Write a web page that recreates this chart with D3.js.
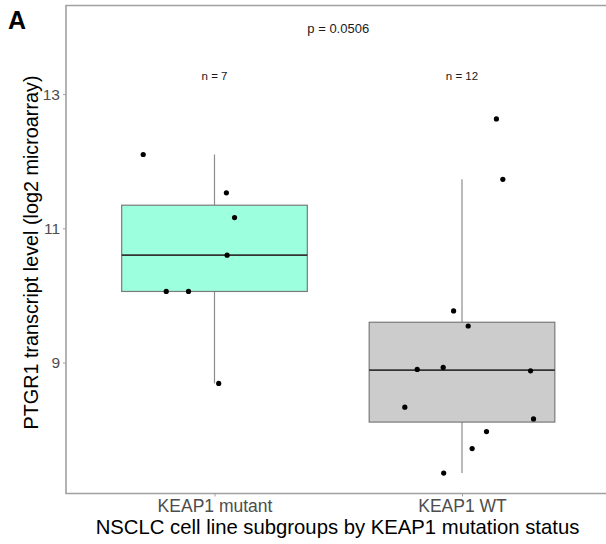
<!DOCTYPE html>
<html><head><meta charset="utf-8">
<script src="https://cdn.jsdelivr.net/npm/d3@7"></script>
<style>body{margin:0;background:#fff;overflow:hidden}svg{display:block;font-family:"Liberation Sans",Arial,sans-serif}</style>
</head><body>
<svg id="c" width="606" height="544"></svg>
<script>
const categories = ["KEAP1 mutant", "KEAP1 WT"];
const mutantValues = [12.10, 11.53, 11.16, 10.60, 10.06, 10.06, 8.69];
const mutantJitter = [-0.288, 0.048, 0.081, 0.051, -0.195, -0.105, 0.017];
const wtValues = [12.63, 11.73, 9.77, 9.545, 8.898, 8.928, 8.878, 8.336, 8.161, 7.973, 7.719, 7.355];
const wtJitter = [0.139, 0.165, -0.034, 0.025, -0.181, -0.076, 0.277, -0.231, 0.289, 0.099, 0.041, -0.074];
const boxColors = ["#9cffde", "#cccccc"];
const yTicks = [9, 11, 13];
const pLabel = "p = 0.0506";
const nLabels = ["n = 7", "n = 12"];

const groups = [
  {name: categories[0], values: mutantValues, jitter: mutantJitter, color: boxColors[0], n: nLabels[0]},
  {name: categories[1], values: wtValues, jitter: wtJitter, color: boxColors[1], n: nLabels[1]}
];

const svg = d3.select("#c");
const panel = {left: 66, top: 5.5, bottom: 493.5};
const step = 247.5;
const x = d3.scalePoint().domain(categories).range([panel.left + 0.6 * step, panel.left + 1.6 * step]);
const y = d3.scaleLinear().domain([7.05, 14.32]).range([panel.bottom, panel.top]);
const panelRight = panel.left + 2.2 * step;
const boxW = 0.75 * step;

// panel border: right edge falls outside the picture, as in the reference
svg.append("path")
  .attr("d", `M${panelRight},${panel.top}H${panel.left}V${panel.bottom}H${panelRight}`)
  .attr("fill", "none").attr("stroke", "#a0a0a0").attr("stroke-width", 1.6);

// axes
const yAxis = d3.axisLeft(y).tickValues(yTicks).tickSize(3).tickPadding(3).tickFormat(d3.format("d"));
const gy = svg.append("g").attr("transform", `translate(${panel.left},0)`).call(yAxis);
gy.select(".domain").remove();
gy.selectAll(".tick line").attr("stroke", "#a0a0a0");
gy.selectAll(".tick text").attr("fill", "#4d4d4d").style("font-size", "15.5px");

const xAxis = d3.axisBottom(x).tickSize(3).tickPadding(3);
const gx = svg.append("g").attr("transform", `translate(0,${panel.bottom})`).call(xAxis);
gx.select(".domain").remove();
gx.selectAll(".tick line").attr("stroke", "#a0a0a0");
gx.selectAll(".tick text").attr("fill", "#4d4d4d").style("font-size", "17.5px");

// boxplots
groups.forEach(g => {
  const s = g.values.slice().sort(d3.ascending);
  const q1 = d3.quantile(s, 0.25), med = d3.quantile(s, 0.5), q3 = d3.quantile(s, 0.75);
  const iqr = q3 - q1;
  const lo = d3.min(s.filter(v => v >= q1 - 1.5 * iqr));
  const hi = d3.max(s.filter(v => v <= q3 + 1.5 * iqr));
  const cx = x(g.name);
  const gg = svg.append("g");
  gg.append("line").attr("x1", cx).attr("x2", cx).attr("y1", y(hi)).attr("y2", y(q3)).attr("stroke", "#8c8c8c").attr("stroke-width", 1.2);
  gg.append("line").attr("x1", cx).attr("x2", cx).attr("y1", y(q1)).attr("y2", y(lo)).attr("stroke", "#8c8c8c").attr("stroke-width", 1.2);
  gg.append("rect").attr("x", cx - boxW / 2).attr("width", boxW)
    .attr("y", y(q3)).attr("height", y(q1) - y(q3))
    .attr("fill", g.color).attr("stroke", "#7a7a7a").attr("stroke-width", 1.2);
  gg.append("line").attr("x1", cx - boxW / 2).attr("x2", cx + boxW / 2).attr("y1", y(med)).attr("y2", y(med))
    .attr("stroke", "#333").attr("stroke-width", 1.8);
  gg.selectAll("circle").data(g.values).join("circle")
    .attr("cx", (d, i) => cx + g.jitter[i] * step)
    .attr("cy", d => y(d)).attr("r", 2.6).attr("fill", "#000");
  svg.append("text").attr("x", cx).attr("y", 80).attr("text-anchor", "middle")
    .style("font-size", "11.5px").attr("fill", "#1a1a1a").text(g.n);
});

svg.append("text").attr("x", (x(categories[0]) + x(categories[1])) / 2).attr("y", 33)
  .attr("text-anchor", "middle").style("font-size", "13px").attr("fill", "#1a1a1a").text(pLabel);

// titles
svg.append("text").attr("transform", `translate(37.5,${(panel.top + panel.bottom) / 2 + 3}) rotate(-90)`)
  .attr("text-anchor", "middle").style("font-size", "19.8px").attr("fill", "#000")
  .text("PTGR1 transcript level (log2 microarray)");
svg.append("text").attr("x", 337.5).attr("y", 534).attr("text-anchor", "middle")
  .style("font-size", "20.3px").attr("fill", "#000")
  .text("NSCLC cell line subgroups by KEAP1 mutation status");
svg.append("text").attr("x", 8).attr("y", 29).style("font-size", "25px").style("font-weight", "bold")
  .attr("fill", "#000").text("A");
</script>
</body></html>
